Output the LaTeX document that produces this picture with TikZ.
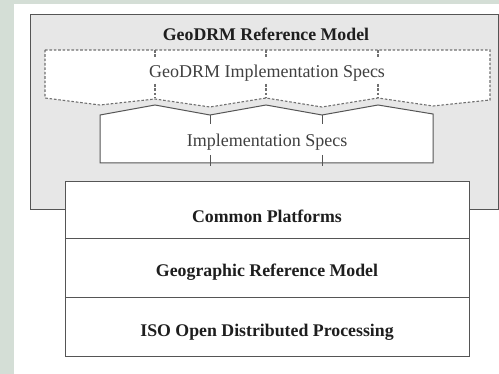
\documentclass[tikz,border=0pt]{standalone}
\usepackage{fontspec}
\setmainfont{Liberation Serif}
\definecolor{sidegreen}{HTML}{D4DED6}
\definecolor{panelgray}{HTML}{E7E7E7}
\definecolor{edgegray}{HTML}{555555}
\definecolor{dashgray}{HTML}{707070}
\definecolor{inktext}{HTML}{1E1E1E}
\definecolor{softtext}{HTML}{404040}
\tikzset{
  edge/.style={draw=edgegray, line width=1pt},
  dashedge/.style={draw=dashgray, line width=1.1pt, dash pattern=on 2.6pt off 1.8pt},
  boldlabel/.style={font=\fontsize{17.8}{20}\selectfont\bfseries, text=inktext, inner sep=0pt},
  plainlabel/.style={font=\fontsize{18}{21}\selectfont, text=softtext, inner sep=0pt},
}
\begin{document}
\begin{tikzpicture}[x=1pt,y=-1pt]
  % canvas and margins
  \useasboundingbox (0,0) rectangle (499,374);
  \fill[sidegreen] (0,0) rectangle (499,374);
  \fill[white] (14,4) rectangle (499,374);

  % outer reference-model panel
  \filldraw[fill=panelgray, edge] (30,15) rectangle (498,210);
  \node[boldlabel] (title) at (266,34) {GeoDRM Reference Model};

  % dashed GeoDRM implementation specs piece
  \filldraw[fill=white, dashedge]
    (45,50) -- (490,50) -- (490,100)
    -- (433,106) -- (378,98) -- (322,107) -- (266,98)
    -- (210,107) -- (155,99) -- (100,105) -- (45,98) -- cycle;
  \foreach \x in {155,266,378} {
    \draw[dashedge] (\x,50) -- (\x,57);
    \draw[dashedge] (\x,84) -- (\x,98);
  }
  \node[plainlabel] (geospecs) at (267,73) {GeoDRM Implementation Specs};

  % solid implementation specs piece
  \filldraw[fill=white, edge]
    (100,115) -- (155,105) -- (210,115) -- (266,105)
    -- (322,115) -- (378,105) -- (433,114)
    -- (433,163) -- (100,163) -- cycle;
  \foreach \x in {210,322} {
    \draw[edge] (\x,115) -- (\x,124);
    \draw[edge] (\x,155) -- (\x,166);
  }
  \node[plainlabel] (implspecs) at (267,142) {Implementation Specs};

  % stacked foundation layers
  \filldraw[fill=white, edge] (65,182) rectangle (469,357);
  \draw[edge] (65,239) -- (469,239);
  \draw[edge] (65,298) -- (469,298);
  \node[boldlabel] (platforms) at (267,216) {Common Platforms};
  \node[boldlabel] (georef) at (267,272) {Geographic Reference Model};
  \node[boldlabel] (odp) at (267,332) {ISO Open Distributed Processing};
\end{tikzpicture}
\end{document}
